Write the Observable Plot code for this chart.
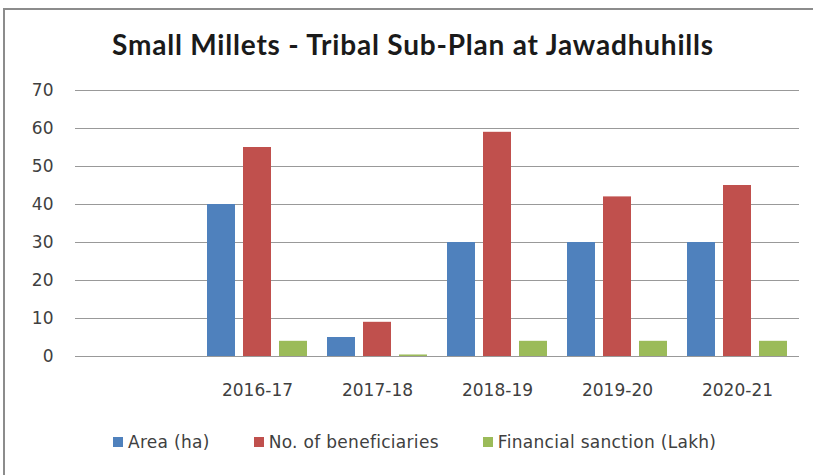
<!DOCTYPE html>
<html>
<head>
<meta charset="utf-8">
<script src="https://cdn.jsdelivr.net/npm/d3@7"></script>
<script src="https://cdn.jsdelivr.net/npm/@observablehq/plot@0.6"></script>
<style>
  body { margin: 0; background: #fff; width: 813px; height: 475px; overflow: hidden; position: relative; font-family: "DejaVu Sans", sans-serif; }
  #frame { position: absolute; left: 3px; top: 8px; width: 900px; height: 600px; border-left: 2px solid #8c8c8c; border-top: 2px solid #8c8c8c; }
  #title { position: absolute; left: 0; top: 27px; width: 826px; text-align: center; font-family: Lato, sans-serif; font-size: 28px; letter-spacing: 0.8px; font-weight: bold; color: #1a1a1a; }
  #chart { position: absolute; left: 0; top: 70px; }
  #legend { position: absolute; left: 113px; top: 432px; display: flex; gap: 44px; font-size: 17px; letter-spacing: 0.3px; color: #404040; }
  .item { display: flex; align-items: center; gap: 5px; }
  .sw { width: 10px; height: 10px; display: inline-block; }
</style>
</head>
<body>
<div id="frame"></div>
<div id="title">Small Millets - Tribal Sub-Plan at Jawadhuhills</div>
<div id="chart"></div>
<div id="legend"></div>
<script>
const years = ["", "2016-17", "2017-18", "2018-19", "2019-20", "2020-21"];
const area = [null, 40, 5, 30, 30, 30];
const beneficiaries = [null, 55, 9, 59, 42, 45];
const sanction = [null, 4, 0.4, 4, 4, 4];
const seriesNames = ["Area (ha)", "No. of beneficiaries", "Financial sanction (Lakh)"];
const seriesColors = ["#4F81BD", "#C0504D", "#9BBB59"];
const yTicks = [0, 10, 20, 30, 40, 50, 60, 70];

const rows = years.map((y, i) => ({year: y, v0: area[i], v1: beneficiaries[i], v2: sanction[i]}));

const chart = Plot.plot({
  width: 813,
  height: 331,
  marginTop: 20,
  marginBottom: 45,
  marginLeft: 75,
  marginRight: 14,
  style: {fontSize: "17px", fontFamily: "'DejaVu Sans', sans-serif", color: "#404040", background: "transparent"},
  x: {domain: years, paddingInner: 0, paddingOuter: 0, tickSize: 0, tickPadding: 27, label: null},
  y: {domain: [0, 70], ticks: yTicks, tickSize: 0, tickPadding: 22, label: null},
  marks: [
    Plot.ruleY(yTicks, {stroke: "#999999", strokeWidth: 1.2}),
    ...seriesNames.map((name, i) =>
      Plot.barY(rows.filter(d => d["v" + i] != null), {x: "year", y: "v" + i, fill: seriesColors[i], insetLeft: 10 + 36 * i, insetRight: 82 - 36 * i})
    )
  ]
});
document.getElementById("chart").appendChild(chart);

const legend = document.getElementById("legend");
seriesNames.forEach((name, i) => {
  const item = document.createElement("div");
  item.className = "item";
  const sw = document.createElement("span");
  sw.className = "sw";
  sw.style.background = seriesColors[i];
  const t = document.createElement("span");
  t.textContent = name;
  item.appendChild(sw);
  item.appendChild(t);
  legend.appendChild(item);
});
</script>
</body>
</html>
